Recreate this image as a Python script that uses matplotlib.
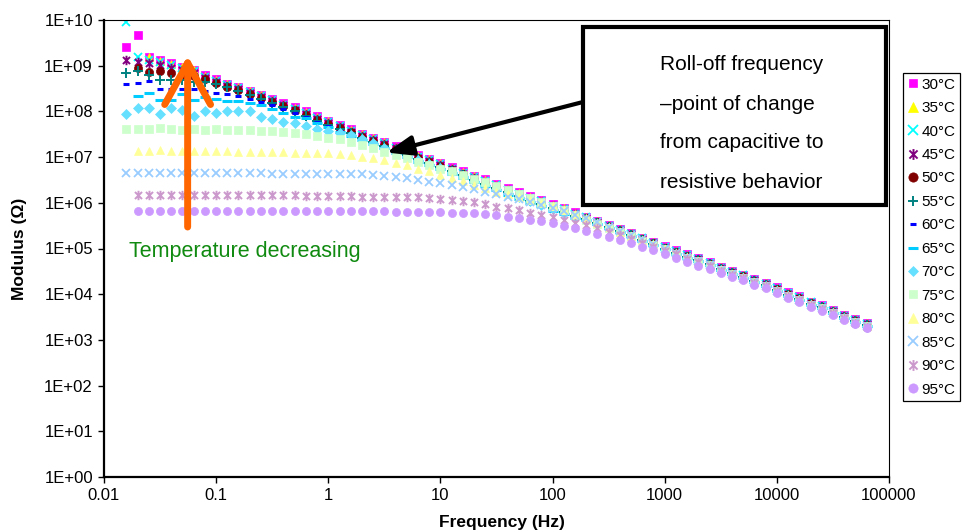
import numpy as np
import matplotlib.pyplot as plt
from matplotlib.path import Path
from matplotlib.patches import Rectangle
from matplotlib.ticker import FixedLocator, NullLocator

plt.rcParams['font.family'] = ['Liberation Sans', 'DejaVu Sans']

# frequency sweep (Hz), 10 points per decade
freq = [0.0158, 0.02, 0.0251, 0.0316, 0.0398, 0.0501, 0.0631, 0.0794,
        0.1, 0.126, 0.158, 0.2, 0.251, 0.316, 0.398, 0.501, 0.631, 0.794,
        1, 1.26, 1.58, 2, 2.51, 3.16, 3.98, 5.01, 6.31, 7.94,
        10, 12.6, 15.8, 20, 25.1, 31.6, 39.8, 50.1, 63.1, 79.4,
        100, 126, 158, 200, 251, 316, 398, 501, 631, 794,
        1000, 1260, 1580, 2000, 2510, 3160, 3980, 5010, 6310, 7940,
        10000, 12600, 15800, 20000, 25100, 31600, 39800, 50100, 63100]

# log10 of modulus (ohm); None = no point
mod_30 = [9.40, 9.68, 9.20, 9.12, 9.05, 8.98, 8.91, 8.79,
          8.70, 8.61, 8.54, 8.45, 8.36, 8.27, 8.18, 8.09, 8.00, 7.89,
          7.80, 7.70, 7.61, 7.51, 7.42, 7.33, 7.24, 7.14, 7.04, 6.96,
          6.87, 6.78, 6.69, 6.59, 6.51, 6.41, 6.32, 6.23, 6.14, 6.06,
          5.97, 5.89, 5.79, 5.70, 5.61, 5.52, 5.43, 5.34, 5.24, 5.15,
          5.05, 4.96, 4.87, 4.79, 4.70, 4.60, 4.51, 4.43, 4.33, 4.25,
          4.15, 4.04, 3.95, 3.84, 3.76, 3.66, 3.55, 3.46, 3.37]
mod_35 = [None, 9.00, 9.19, 9.11, 9.04, 8.97, 8.90, 8.78,
          8.69, 8.60, 8.53, 8.44, 8.35, 8.26, 8.17, 8.08, 7.99, 7.88,
          7.79, 7.69, 7.60, 7.50, 7.41, 7.32, 7.23, 7.13, 7.03, 6.95,
          6.86, 6.77, 6.68, 6.58, 6.50, 6.40, 6.31, 6.22, 6.13, 6.05,
          5.96, 5.88, 5.78, 5.69, 5.60, 5.51, 5.42, 5.33, 5.23, 5.14,
          5.04, 4.95, 4.86, 4.78, 4.69, 4.59, 4.50, 4.42, 4.32, 4.24,
          4.14, 4.03, 3.94, 3.83, 3.75, 3.65, 3.54, 3.45, 3.36]
mod_40 = [9.96, 9.20, 9.12, 9.09, 9.02, 8.95, 8.88, 8.76,
          8.67, 8.58, 8.51, 8.42, 8.33, 8.24, 8.15, 8.06, 7.97, 7.86,
          7.77, 7.67, 7.58, 7.48, 7.39, 7.30, 7.21, 7.11, 7.01, 6.93,
          6.84, 6.75, 6.66, 6.56, 6.48, 6.38, 6.29, 6.20, 6.11, 6.03,
          5.94, 5.86, 5.76, 5.68, 5.59, 5.50, 5.41, 5.32, 5.22, 5.13,
          5.03, 4.94, 4.85, 4.77, 4.68, 4.58, 4.49, 4.41, 4.31, 4.23,
          4.13, 4.02, 3.93, 3.82, 3.74, 3.64, 3.53, 3.44, 3.35]
mod_45 = [9.12, 9.09, 9.07, 9.02, 8.94, 8.90, 8.84, 8.74,
          8.65, 8.56, 8.49, 8.40, 8.31, 8.22, 8.13, 8.04, 7.95, 7.84,
          7.75, 7.65, 7.56, 7.46, 7.37, 7.28, 7.19, 7.09, 6.99, 6.91,
          6.82, 6.73, 6.64, 6.54, 6.46, 6.36, 6.27, 6.18, 6.09, 6.01,
          5.92, 5.84, 5.75, 5.67, 5.58, 5.49, 5.40, 5.31, 5.21, 5.12,
          5.02, 4.93, 4.84, 4.76, 4.67, 4.57, 4.48, 4.40, 4.30, 4.22,
          4.12, 4.01, 3.92, 3.81, 3.73, 3.63, 3.52, 3.43, 3.34]
mod_50 = [None, 8.94, 8.87, 8.89, 8.83, 8.80, 8.77, 8.70,
          8.63, 8.54, 8.47, 8.38, 8.29, 8.20, 8.11, 8.02, 7.93, 7.82,
          7.73, 7.63, 7.54, 7.44, 7.35, 7.26, 7.17, 7.07, 6.97, 6.89,
          6.80, 6.71, 6.62, 6.52, 6.44, 6.34, 6.25, 6.16, 6.07, 5.99,
          5.90, 5.82, 5.73, 5.66, 5.57, 5.48, 5.39, 5.30, 5.20, 5.11,
          5.01, 4.92, 4.83, 4.75, 4.66, 4.56, 4.47, 4.39, 4.29, 4.21,
          4.11, 4.00, 3.91, 3.80, 3.72, 3.62, 3.51, 3.42, 3.33]
mod_55 = [8.83, 8.88, 8.80, 8.69, 8.69, 8.69, 8.65, 8.65,
          8.60, 8.53, 8.45, 8.36, 8.27, 8.18, 8.09, 8.00, 7.91, 7.80,
          7.71, 7.61, 7.52, 7.42, 7.33, 7.24, 7.15, 7.05, 6.95, 6.87,
          6.78, 6.69, 6.60, 6.50, 6.42, 6.32, 6.23, 6.14, 6.05, 5.97,
          5.88, 5.80, 5.71, 5.65, 5.56, 5.47, 5.38, 5.29, 5.19, 5.10,
          5.00, 4.91, 4.82, 4.74, 4.65, 4.55, 4.46, 4.38, 4.28, 4.20,
          4.10, 3.99, 3.90, 3.79, 3.71, 3.61, 3.50, 3.41, 3.32]
mod_60 = [8.60, 8.62, 8.67, 8.48, 8.48, 8.50, 8.48, 8.45,
          8.41, 8.37, 8.34, 8.28, 8.20, 8.13, 8.06, 7.97, 7.88, 7.77,
          7.68, 7.58, 7.49, 7.39, 7.30, 7.21, 7.12, 7.02, 6.92, 6.84,
          6.75, 6.66, 6.57, 6.47, 6.39, 6.29, 6.20, 6.11, 6.02, 5.94,
          5.85, 5.77, 5.68, 5.64, 5.55, 5.46, 5.37, 5.28, 5.18, 5.09,
          4.99, 4.90, 4.81, 4.73, 4.64, 4.54, 4.45, 4.37, 4.27, 4.19,
          4.09, 3.98, 3.89, 3.78, 3.70, 3.60, 3.49, 3.40, 3.31]
mod_65 = [None, 8.34, 8.40, 8.26, 8.26, 8.37, 8.25, 8.31,
          8.28, 8.23, 8.23, 8.18, 8.14, 8.05, 7.97, 7.88, 7.86, 7.75,
          7.66, 7.56, 7.47, 7.37, 7.28, 7.19, 7.10, 7.00, 6.90, 6.82,
          6.73, 6.64, 6.55, 6.45, 6.37, 6.27, 6.18, 6.09, 6.00, 5.92,
          5.83, 5.75, 5.67, 5.63, 5.54, 5.45, 5.36, 5.27, 5.17, 5.08,
          4.98, 4.89, 4.80, 4.72, 4.63, 4.53, 4.44, 4.36, 4.26, 4.18,
          4.08, 3.97, 3.88, 3.77, 3.69, 3.59, 3.48, 3.39, 3.30]
mod_70 = [7.94, 8.08, 8.08, 7.94, 8.08, 8.03, 7.90, 8.01,
          7.96, 8.00, 8.00, 8.01, 7.87, 7.83, 7.77, 7.74, 7.68, 7.62,
          7.57, 7.53, 7.48, 7.39, 7.30, 7.21, 7.13, 7.03, 6.93, 6.85,
          6.76, 6.67, 6.58, 6.48, 6.40, 6.30, 6.21, 6.12, 6.03, 5.95,
          5.86, 5.78, 5.68, 5.62, 5.53, 5.44, 5.35, 5.26, 5.16, 5.07,
          4.97, 4.88, 4.79, 4.71, 4.62, 4.52, 4.43, 4.35, 4.25, 4.17,
          4.07, 3.96, 3.87, 3.76, 3.68, 3.58, 3.47, 3.38, 3.29]
mod_75 = [7.62, 7.61, 7.61, 7.63, 7.62, 7.60, 7.61, 7.60,
          7.61, 7.60, 7.60, 7.59, 7.58, 7.57, 7.55, 7.52, 7.50, 7.46,
          7.42, 7.39, 7.33, 7.26, 7.20, 7.12, 7.05, 6.97, 6.90, 6.83,
          6.75, 6.69, 6.61, 6.53, 6.45, 6.37, 6.29, 6.20, 6.11, 6.02,
          5.93, 5.84, 5.74, 5.63, 5.54, 5.45, 5.36, 5.27, 5.17, 5.08,
          4.98, 4.89, 4.80, 4.72, 4.63, 4.53, 4.44, 4.36, 4.26, 4.18,
          4.08, 3.97, 3.88, 3.77, 3.69, 3.59, 3.48, 3.39, 3.30]
mod_80 = [None, 7.14, 7.14, 7.15, 7.14, 7.14, 7.13, 7.14,
          7.13, 7.13, 7.12, 7.12, 7.12, 7.11, 7.11, 7.10, 7.10, 7.09,
          7.08, 7.07, 7.05, 7.01, 6.97, 6.94, 6.86, 6.82, 6.75, 6.69,
          6.61, 6.54, 6.48, 6.39, 6.32, 6.24, 6.19, 6.13, 6.06, 6.00,
          5.92, 5.84, 5.75, 5.66, 5.55, 5.46, 5.37, 5.28, 5.18, 5.09,
          4.99, 4.90, 4.81, 4.73, 4.64, 4.54, 4.45, 4.37, 4.27, 4.19,
          4.09, 3.98, 3.89, 3.78, 3.70, 3.60, 3.49, 3.40, 3.31]
mod_85 = [6.66, 6.66, 6.66, 6.66, 6.66, 6.66, 6.66, 6.65,
          6.66, 6.65, 6.65, 6.65, 6.65, 6.64, 6.64, 6.64, 6.63, 6.63,
          6.63, 6.63, 6.62, 6.62, 6.61, 6.59, 6.57, 6.54, 6.50, 6.46,
          6.43, 6.39, 6.34, 6.30, 6.24, 6.19, 6.13, 6.08, 6.02, 5.96,
          5.89, 5.82, 5.74, 5.66, 5.57, 5.48, 5.39, 5.29, 5.20, 5.10,
          5.00, 4.91, 4.82, 4.73, 4.64, 4.54, 4.45, 4.36, 4.26, 4.18,
          4.08, 3.97, 3.88, 3.77, 3.69, 3.59, 3.48, 3.39, 3.30]
mod_90 = [None, 6.18, 6.18, 6.18, 6.18, 6.18, 6.18, 6.17,
          6.18, 6.17, 6.17, 6.17, 6.17, 6.16, 6.16, 6.16, 6.15, 6.15,
          6.15, 6.14, 6.14, 6.13, 6.13, 6.13, 6.13, 6.12, 6.12, 6.11,
          6.08, 6.06, 6.04, 6.02, 5.97, 5.91, 5.88, 5.84, 5.77, 5.73,
          5.68, 5.62, 5.56, 5.51, 5.44, 5.36, 5.29, 5.21, 5.13, 5.04,
          4.95, 4.87, 4.78, 4.70, 4.61, 4.51, 4.42, 4.35, 4.25, 4.17,
          4.07, 3.96, 3.87, 3.76, 3.68, 3.58, 3.47, 3.38, 3.29]
mod_95 = [None, 5.83, 5.83, 5.83, 5.83, 5.83, 5.83, 5.83,
          5.83, 5.83, 5.82, 5.82, 5.82, 5.82, 5.82, 5.82, 5.82, 5.82,
          5.82, 5.81, 5.81, 5.81, 5.81, 5.81, 5.80, 5.80, 5.80, 5.79,
          5.79, 5.78, 5.78, 5.77, 5.75, 5.73, 5.70, 5.67, 5.63, 5.60,
          5.55, 5.50, 5.44, 5.38, 5.31, 5.25, 5.19, 5.11, 5.04, 4.96,
          4.87, 4.79, 4.70, 4.62, 4.56, 4.47, 4.38, 4.31, 4.21, 4.13,
          4.03, 3.92, 3.83, 3.72, 3.64, 3.54, 3.43, 3.35, 3.27]

labels = ['30°C', '35°C', '40°C', '45°C', '50°C', '55°C', '60°C',
          '65°C', '70°C', '75°C', '80°C', '85°C', '90°C', '95°C']
series = [mod_30, mod_35, mod_40, mod_45, mod_50, mod_55, mod_60,
          mod_65, mod_70, mod_75, mod_80, mod_85, mod_90, mod_95]

# excel-like star: vertical bar + x
star = Path([(0, -1), (0, 1), (-0.75, -0.75), (0.75, 0.75), (-0.75, 0.75), (0.75, -0.75)],
            [Path.MOVETO, Path.LINETO] * 3)

styles = [
    dict(marker='s', ms=5.4, color='#FF00FF'),
    dict(marker='^', ms=6.2, color='#FFFF00'),
    dict(marker='x', ms=5.8, mew=1.3, color='#00FFFF'),
    dict(marker=star, ms=6.8, mew=1.4, color='#800080'),
    dict(marker='o', ms=5.8, color='#800000'),
    dict(marker='+', ms=6.8, mew=1.4, color='#008080'),
    dict(marker='_', ms=4, mew=2.2, color='#0000FF'),
    dict(marker='_', ms=6.5, mew=2.2, color='#00CCFF'),
    dict(marker='D', ms=4.7, color='#66E0FF'),
    dict(marker='s', ms=5.4, color='#CCFFCC'),
    dict(marker='^', ms=6.2, color='#FFFF99'),
    dict(marker='x', ms=5.8, mew=1.3, color='#99CCFF'),
    dict(marker=star, ms=6.8, mew=1.4, color='#CC99CC'),
    dict(marker='o', ms=5.8, color='#CC99FF'),
]

fig = plt.figure(figsize=(9.64, 5.32), dpi=100)
ax = fig.add_axes([104 / 964, 1 - 477 / 532, 785 / 964, 457 / 532])

f = np.array(freq)
for vals, lab, st in zip(series, labels, styles):
    y = 10 ** np.array(vals, dtype=float)
    ax.plot(f, y, linestyle='none', marker=st['marker'], markersize=st['ms'],
            markeredgewidth=st.get('mew', 0.5), color=st['color'],
            markerfacecolor=st['color'], markeredgecolor=st['color'], label=lab)

ax.set_xscale('log')
ax.set_yscale('log')
ax.set_xlim(0.01, 100000)
ax.set_ylim(1, 1e10)

xt = [0.01, 0.1, 1, 10, 100, 1000, 10000, 100000]
ax.xaxis.set_major_locator(FixedLocator(xt))
ax.set_xticklabels(['0.01', '0.1', '1', '10', '100', '1000', '10000', '100000'])
yt = [10.0 ** i for i in range(11)]
ax.yaxis.set_major_locator(FixedLocator(yt))
ax.set_yticklabels(['1E+%02d' % i for i in range(11)])
ax.xaxis.set_minor_locator(NullLocator())
ax.yaxis.set_minor_locator(NullLocator())
ax.tick_params(direction='out', length=4, width=1, labelsize=12, pad=4)

for s in ['left', 'bottom']:
    ax.spines[s].set_linewidth(1.6)
for s in ['top', 'right']:
    ax.spines[s].set_linewidth(0.8)

ax.set_xlabel('Frequency (Hz)', fontsize=12.5, fontweight='bold')
ax.set_ylabel('Modulus (Ω)', fontsize=12.5, fontweight='bold')
ax.xaxis.set_label_coords(0.507, -0.099)
ax.xaxis.label.set_va('center')
ax.yaxis.set_label_coords(-0.108, 0.5)
ax.yaxis.label.set_va('center')

leg = ax.legend(loc='upper left', bbox_to_anchor=(903 / 964, 1 - 73 / 532),
                bbox_transform=fig.transFigure, fontsize=11, frameon=True,
                fancybox=False, edgecolor='black', framealpha=1,
                borderpad=0.3, handlelength=0.7, handletextpad=0.2,
                labelspacing=0.62, borderaxespad=0, markerscale=1.15)
leg.get_frame().set_linewidth(0.9)

# roll-off annotation box
fig.add_artist(Rectangle((583 / 964, 1 - 205 / 532), (886 - 583) / 964, (205 - 27) / 532,
                         transform=fig.transFigure, facecolor='white',
                         edgecolor='black', linewidth=3, zorder=5))
box_lines = ['Roll-off frequency', '\u2013point of change',
             'from capacitive to', 'resistive behavior']
for i, line in enumerate(box_lines):
    fig.text(660 / 964, 1 - (65 + 39 * i) / 532, line, fontsize=15,
             ha='left', va='center', zorder=6)

ax.annotate('', xy=(3.3, 10 ** 7.1), xycoords='data',
            xytext=(583 / 964, 1 - 102 / 532), textcoords='figure fraction',
            arrowprops=dict(arrowstyle='-|>,head_length=0.8,head_width=0.3',
                            lw=3, color='black', shrinkA=0, shrinkB=0,
                            mutation_scale=20), zorder=4)

# temperature arrow
ax.annotate('', xy=(0.0557, 10 ** 9.22), xytext=(0.0557, 10 ** 5.47),
            arrowprops=dict(arrowstyle='->,head_length=1.0,head_width=0.55',
                            lw=5, color='#FF6600', shrinkA=0, shrinkB=0,
                            mutation_scale=30), zorder=4)
fig.text(129 / 964, 1 - 252 / 532, 'Temperature decreasing', color='#108A10',
         fontsize=15.5, ha='left', va='center')

fig.savefig('out.png', dpi=100)
